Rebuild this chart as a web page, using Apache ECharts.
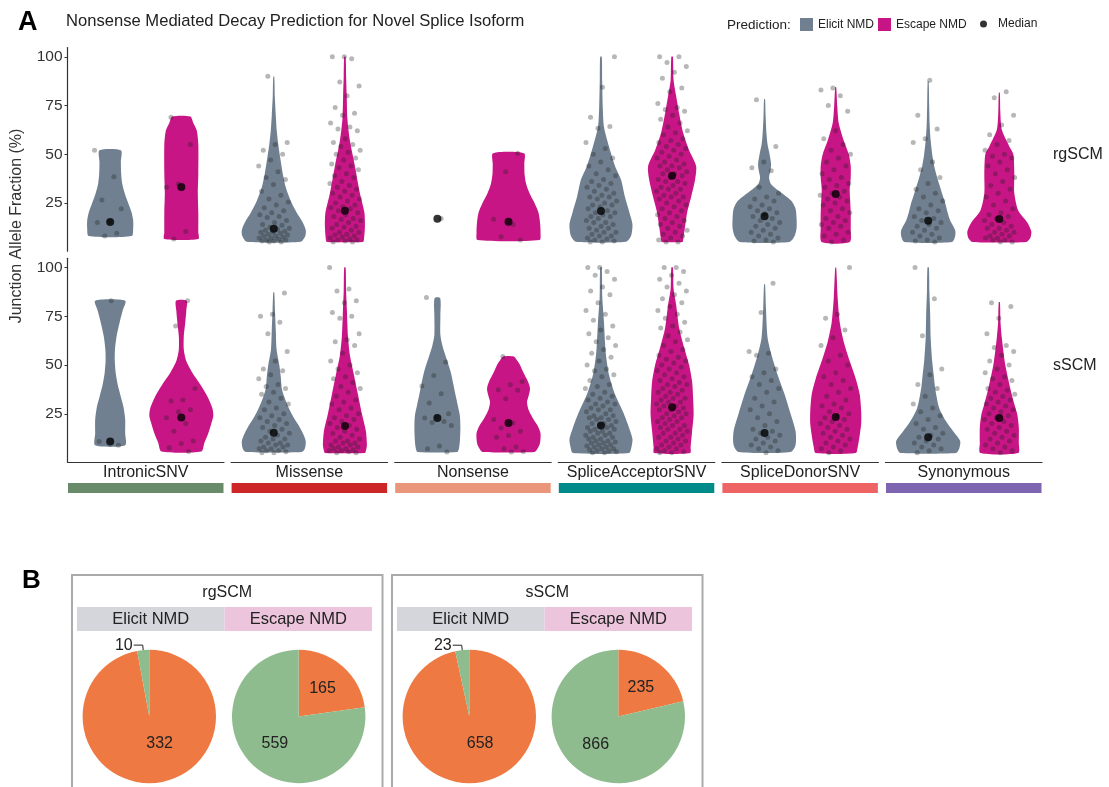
<!DOCTYPE html>
<html>
<head>
<meta charset="utf-8">
<script src="https://cdn.jsdelivr.net/npm/echarts@6/dist/echarts.min.js"></script>
<style>
  html, body { margin: 0; padding: 0; background: #fff; }
  #chart { width: 1109px; height: 787px; }
</style>
</head>
<body>
<div id="chart"></div>
<script>
// ---------- data ----------
const categories = ['IntronicSNV', 'Missense', 'Nonsense', 'SpliceAcceptorSNV', 'SpliceDonorSNV', 'Synonymous'];
const predictions = ['Elicit NMD', 'Escape NMD'];
const cohorts = ['rgSCM', 'sSCM'];
const yTicks = [25, 50, 75, 100];

// median junction allele fraction (%) per category
const rgElicitMedian = [15.2, 11.8, 16.9, 20.9, 18.2, 15.9];
const rgEscapeMedian = [33.2, 21.0, 15.4, 39.0, 29.6, 16.8];
const sElicitMedian  = [10.8, 15.3, 22.8, 19.0, 15.1, 12.9];
const sEscapeMedian  = [23.1, 18.7, 20.2, 28.4, 23.3, 22.8];

// individual junctions (%) per category
const rgElicitPoints = [
  [52, 38.5, 26.5, 22, 15.5, 15, 9.5, 8],
  [90, 56, 55, 52, 50, 47, 44, 41, 38, 37, 34.5, 31, 29, 27, 25.5, 24, 22.5, 21, 20, 19, 18, 17.5, 16, 15, 14, 13.5, 12.5, 12, 11.5, 11, 10.5, 10, 10, 9.5, 9, 8.5, 8, 8, 7.5, 7, 7, 6.5, 6, 6, 5.5, 5.5, 5, 5],
  [17],
  [100, 84.4, 69, 64.2, 63.3, 56, 53, 50, 48, 46, 44, 42, 40, 39, 37, 36, 35, 34, 33, 32, 31, 30, 29, 28, 28, 27, 26, 25, 24, 24, 23, 22, 21, 20, 20, 19, 18, 18, 17, 16, 15, 15, 14, 13, 12, 12, 11, 10, 10, 9, 8, 8, 7, 6.5, 6, 5.5, 5, 5],
  [78, 54, 46, 43, 41.5, 33, 30, 28, 27, 26, 24, 23, 22, 21, 20, 19.5, 18, 17, 16, 15, 14, 13, 12, 11, 10, 9, 8, 7, 6, 5.5, 5],
  [88, 70, 63, 58, 56, 46, 42, 38, 35, 32, 30, 28, 26, 24, 22, 21, 20, 18, 17, 16, 15, 14, 13, 12, 11, 10, 9, 8, 7, 6, 5.5, 5]
];
const rgEscapePoints = [
  [69, 55, 34.7, 33, 10.3, 6.5],
  [100, 100, 99, 87, 85, 80, 74, 71, 70, 66, 64, 63, 62, 58, 56, 55, 54, 52, 51, 50, 48, 47, 45, 44, 43, 42, 40, 39, 38, 36, 35, 34, 33, 32, 31, 30, 29, 28, 27, 26, 25, 24, 23, 22.5, 22, 21, 20, 19, 18, 17, 16.5, 16, 15, 14, 13, 12.5, 12, 11, 10, 10, 9, 8.5, 8, 7.5, 7, 6.5, 6, 6, 5.5, 5, 5],
  [50.5, 41, 16.6, 14, 7.7, 6],
  [100, 100, 97, 95, 92, 89, 84, 82, 76, 74, 73, 72, 70, 68, 66, 64, 62, 61, 60, 58, 57, 56, 55, 54, 53, 52, 51, 50, 49, 48, 47, 46, 45, 44, 44, 43, 42, 41, 40, 40, 39, 38, 37, 36, 36, 35, 34, 33, 32, 32, 31, 30, 29, 28, 28, 27, 26, 25, 24, 23, 22, 21, 20, 19, 18, 17, 16, 15, 14, 13, 12, 11, 10, 9, 8, 7, 6, 5, 5],
  [84, 83, 80, 75, 72, 62, 58, 55, 52, 50, 48, 46, 44, 42, 40, 38, 37, 35, 34, 33, 31, 30, 29, 28, 27, 26, 25, 24, 22, 21, 20, 18, 17, 16, 15, 14, 13, 12, 10, 9, 8, 6, 5],
  [82, 79, 70, 65, 60, 57, 55, 52, 50, 49, 48, 46, 44, 42, 40, 38, 36, 34, 32, 30, 28, 26, 24, 22, 20, 19, 18, 17, 16, 15, 14, 13, 12, 12, 11, 10, 10, 9, 8, 8, 7, 7, 6, 6, 5, 5]
];
const sElicitPoints = [
  [83, 10.8, 8.8],
  [87, 76, 75, 72, 66, 57, 52, 48, 47, 45, 43, 40, 39, 38, 36, 35, 33, 31, 30, 28, 27, 25, 24, 23, 22, 21, 20, 19, 18, 17, 16, 15, 14, 13, 12, 12, 11, 10, 10, 9, 9, 8, 8, 7, 7, 6, 6, 5.5, 5, 5],
  [84.6, 51.5, 44.6, 39.3, 35.2, 30.5, 25, 23.6, 22.8, 21, 20.5, 19, 8.4, 7, 5.4],
  [100, 100, 98, 96, 94, 90, 88, 86, 82, 78, 76, 73, 70, 68, 66, 64, 62, 60, 58, 56, 54, 52, 50, 48, 47, 45, 44, 42, 40, 39, 38, 36, 35, 34, 33, 32, 31, 30, 30, 29, 28, 27, 27, 26, 25, 24, 24, 23, 23, 22, 22, 21, 20, 20, 19, 19, 18, 18, 17, 17, 16, 16, 15, 15, 14, 14, 13, 13, 12, 12, 11, 11, 10.5, 10, 10, 9, 9, 8.5, 8, 8, 7, 7, 6.5, 6, 6, 5.5, 5, 5],
  [92, 77, 57, 56, 55, 48, 46, 44, 42, 40, 38, 36, 33, 31, 29, 27, 25, 23, 21, 19, 17, 16, 15, 14, 13, 12, 11, 10, 9, 8, 7, 6, 5],
  [100, 84, 65, 48, 45, 40, 38, 34, 30, 28, 26, 24, 22, 20, 18, 17, 15, 14, 13, 12, 11, 10, 9, 8, 7, 6, 5]
];
const sEscapePoints = [
  [83, 70, 38, 32, 31.5, 27, 26, 23, 20, 16, 11, 9.7, 7.5, 5.7],
  [100, 89, 88, 83, 82, 77, 75, 74, 66, 63, 62, 60, 56, 52, 50, 48, 46, 44, 43, 41, 39, 38, 36, 34, 32, 31, 30, 28, 27, 25, 24, 23, 22, 21, 20, 19, 18, 17, 16, 15, 14, 13, 12, 11, 11, 10, 10, 9, 9, 8, 8, 7, 7, 6.5, 6, 6, 5.5, 5, 5],
  [54.4, 41.5, 39.9, 37.3, 37, 32.7, 22, 20.2, 17.7, 16, 13.8, 13, 7.9, 7, 5.7, 5.4],
  [100, 100, 98, 96, 94, 92, 90, 88, 86, 84, 82, 80, 78, 76, 74, 72, 70, 69, 67, 65, 63, 62, 60, 58, 57, 55, 54, 53, 52, 51, 50, 49, 48, 47, 46, 45, 44, 43, 42, 41, 40, 40, 39, 38, 37, 36, 36, 35, 34, 33, 33, 32, 31, 31, 30, 29, 29, 28, 27, 27, 26, 25, 25, 24, 23, 23, 22, 21, 21, 20, 19, 19, 18, 17, 17, 16, 15, 15, 14, 13, 13, 12, 11, 11, 10, 9, 9, 8, 7, 7, 6, 5.5, 5, 5],
  [100, 76, 74, 68, 64, 60, 55, 52, 50, 46, 44, 42, 40, 38, 36, 34, 32, 30, 29, 28, 26, 25, 24, 23, 22, 21, 20, 19, 18, 17, 16, 15, 14, 13, 12, 11, 10, 9, 8, 7, 6, 5],
  [82, 80, 74, 66, 60, 59, 57, 55, 52, 50, 48, 46, 44, 43, 42, 40, 38, 37, 36, 35, 34, 33, 32, 31, 30, 29, 28, 27, 26, 25, 24, 23, 22, 21, 20, 19, 18, 17, 16, 15, 14, 13, 12, 11, 10, 9, 8, 7, 6, 5]
];

// violin outlines: [value (%), kernel density (arbitrary units)], top to bottom; null = too few junctions
const rgElicitDensity = [
  [[52, 10.7], [46, 10.7], [40, 11], [35, 12], [30, 14.5], [25, 18], [20, 21.5], [16, 23], [12, 23], [8, 21.5]],
  [[89.8, 0.5], [80, 1], [70, 2], [62, 3], [55, 4.5], [48, 6.5], [40, 9], [33, 12], [26, 17], [20, 23], [15, 29], [11, 32], [8, 31.5], [5.1, 27]],
  null,
  [[100, 0.8], [88, 1.2], [74, 1.8], [64, 3], [54, 8], [44, 14], [37, 20], [28, 24], [20, 28.5], [14, 31.5], [8, 30], [5.1, 25]],
  [[78.2, 0.5], [70, 1], [60, 2], [55, 3], [50, 5], [45, 6.5], [42, 6], [38, 4.5], [35, 6], [32, 12], [29, 20], [26, 27], [22, 31], [17, 32], [12, 32], [8, 30], [5, 25]],
  [[87.3, 0.5], [75, 1], [65, 1.5], [57, 2.5], [50, 4], [44, 6], [38, 9], [33, 12], [28, 15], [25, 17], [20, 19.5], [16, 22], [11, 27], [8, 27], [5, 24]]
];
const rgEscapeDensity = [
  [[69.3, 9], [66, 12], [62, 15.5], [55, 17], [40, 17], [30, 16.5], [20, 17], [10, 17], [6.5, 17]],
  [[100, 0.7], [90, 1.2], [80, 1.8], [68, 2.5], [57, 5], [44, 10], [30, 15], [20, 19.5], [13, 20], [6, 19], [5, 18]],
  [[50.5, 15.5], [45, 15.8], [40, 16], [35, 17.5], [30, 21], [25, 26], [20, 30], [15, 31.5], [10, 32], [6, 31]],
  [[100, 0.8], [88, 1.5], [80, 4], [71, 7], [61, 11], [52, 17], [44, 24], [37, 23], [28, 19], [20, 15], [13, 13], [6, 11], [5, 10.5]],
  [[84.4, 0.5], [75, 1.5], [66, 3], [57, 8], [50, 13], [44, 15], [38, 15], [32, 14], [26, 14.5], [20, 15], [12, 15], [5, 14]],
  [[81.6, 0.5], [72, 1], [62.5, 2.5], [54, 10], [50, 14], [40, 15], [30, 15], [21, 19], [15, 28], [10.3, 32], [7, 31], [5, 27]]
];
const sElicitDensity = [
  [[83, 15], [78, 12.5], [72, 9.5], [65, 6.5], [58, 4.8], [52, 4.6], [46, 5.5], [40, 7.5], [34, 10.5], [28, 13.5], [22, 15], [15, 15], [8.8, 15]],
  [[87.3, 0.5], [78, 1.2], [68, 2], [58, 2.8], [50, 5.5], [44, 7], [38, 8], [33, 11], [28, 15], [23, 20], [19, 25], [14, 30], [10.8, 32], [7, 31], [5.4, 28]],
  [[84.3, 2.8], [75, 3], [65.5, 3], [60, 5], [55, 8], [47, 13], [40, 16], [35, 18], [29, 20.5], [24, 22.5], [18, 23], [11, 22.5], [7, 21.5], [5.4, 20]],
  [[100, 0.8], [85, 1.3], [72, 3], [62, 4], [55, 5], [45, 8], [35, 14], [26, 22], [18, 28], [12, 31.5], [8, 30.5], [4.9, 28]],
  [[91.4, 0.5], [80, 1.3], [64, 3], [55, 7], [45, 13], [35, 20], [25, 26], [16, 31], [9, 31], [5.4, 26]],
  [[100, 0.7], [88, 1.2], [76, 2], [64, 2.5], [52, 4], [45, 5.5], [38, 7], [28, 11], [21, 18], [16, 25], [11, 32], [7, 31], [4.9, 28]]
];
const sEscapeDensity = [
  [[83, 5.3], [78, 5], [72, 4], [65, 2.5], [58, 2.5], [52, 5], [46, 11], [40, 19], [34, 26], [28, 31], [24, 32], [20, 30], [15, 27], [10, 23], [5.7, 20]],
  [[100, 0.7], [88, 1.2], [78, 2], [65, 3], [55, 5], [45, 9], [35, 13], [25, 17], [16, 21], [9, 22], [6, 21], [4.9, 20]],
  [[54.4, 5.3], [52, 9], [50, 11.5], [46, 15], [42, 19], [38, 21.5], [34, 20], [31, 18.5], [27, 20], [23, 24], [19, 29], [15, 32], [10, 31.5], [7, 29], [5.4, 26]],
  [[100, 0.8], [89, 1.5], [81, 4], [69, 7], [59, 12], [50, 17], [41.5, 20], [33, 21], [24.5, 21.5], [16, 20], [8, 18.5], [4.9, 18]],
  [[100, 0.5], [84, 2], [72, 4], [62, 8], [52, 14], [43, 20], [35, 24], [26, 25.5], [20, 25.5], [14, 24], [8, 22], [4.9, 20]],
  [[82.2, 0.6], [72, 1.2], [64, 2.5], [50, 6], [38, 11], [30, 15], [24.5, 18], [18, 19.5], [10, 19.5], [4.9, 19]]
];

// panel B: junction counts per prediction, [orange slice, green slice]
const pieSliceNames = ['Elicit', 'Escape'];
const rgElicitCounts = [332, 10];
const rgEscapeCounts = [165, 559];
const sElicitCounts  = [658, 23];
const sEscapeCounts  = [235, 866];

// ---------- styling ----------
const FONT = "'Liberation Sans', Arial, Helvetica, sans-serif";
const TEXT = '#222';
const predColors = ['#708090', '#c71585'];
const catStripColors = ['#698b69', '#cd2626', '#e9967a', '#008b8b', '#ee6363', '#7e65b0'];
const pieColors = ['#ee7942', '#8fbc8f'];
const stripFill = ['#d4d6dc', '#ecc5dd'];

const PANEL_X0 = 67.5, PANEL_STEP = 163.6, PANEL_W = 156.5;
const ROW_TOP = [47.5, 258.3], ROW_H = 203.7;
const Y_MIN = 0.25, Y_MAX = 104.75;
const DENS_TO_X = 1 / 71.14;   // density units -> x-axis units
const JITTER = 0.22;

const medians = [[rgElicitMedian, rgEscapeMedian], [sElicitMedian, sEscapeMedian]];
const points  = [[rgElicitPoints, rgEscapePoints], [sElicitPoints, sEscapePoints]];
const density = [[rgElicitDensity, rgEscapeDensity], [sElicitDensity, sEscapeDensity]];

const grids = [], xAxes = [], yAxes = [], series = [];

for (let r = 0; r < 2; r++) {
  for (let c = 0; c < categories.length; c++) {
    const g = grids.length;
    grids.push({ left: PANEL_X0 + c * PANEL_STEP, top: ROW_TOP[r], width: PANEL_W, height: ROW_H });
    xAxes.push({
      gridIndex: g, type: 'value', min: 0.4, max: 2.6,
      axisLine: { show: r === 1, onZero: false, lineStyle: { color: '#333', width: 1.2 } },
      axisTick: { show: false }, axisLabel: { show: false }, splitLine: { show: false }
    });
    yAxes.push({
      gridIndex: g, type: 'value', min: Y_MIN, max: Y_MAX, show: c === 0,
      axisLine: { show: true, lineStyle: { color: '#333', width: 1.2 } },
      axisTick: { show: true, length: 3, customValues: yTicks, lineStyle: { color: '#333' } },
      axisLabel: { customValues: yTicks, fontSize: 15.5, color: '#333', fontFamily: FONT, margin: 5 },
      splitLine: { show: false }
    });

    for (let p = 0; p < 2; p++) {
      const prof = density[r][p][c];
      if (prof) {
        series.push({
          type: 'custom', name: predictions[p], xAxisIndex: g, yAxisIndex: g, z: 1,
          itemStyle: { color: predColors[p] }, silent: true,
          encode: { x: 0, y: 1 },
          data: [[p + 1, medians[r][p][c]]],
          renderItem: (params, api) => {
            const cx = api.value(0);
            const right = prof.map(([v, d]) => api.coord([cx + d * DENS_TO_X, v]));
            const left = prof.slice().reverse().map(([v, d]) => api.coord([cx - d * DENS_TO_X, v]));
            return {
              type: 'polygon',
              shape: { points: right.concat(left), smooth: 0.25 },
              style: { fill: predColors[p] }
            };
          }
        });
      }
    }
    for (let p = 0; p < 2; p++) {
      // spread the junctions sideways with a fixed golden-ratio sequence
      const pts = points[r][p][c].map((v, i) => {
        const f = (i * 0.6180339887 + 0.31 * c + 0.17 * p + 0.53 * r) % 1;
        return [p + 1 + (f - 0.5) * 2 * JITTER, v];
      });
      series.push({
        type: 'scatter', name: predictions[p], xAxisIndex: g, yAxisIndex: g, z: 2,
        symbolSize: 5, silent: true,
        itemStyle: { color: 'rgba(30,30,30,0.4)' },
        data: pts
      });
    }
    series.push({
      type: 'scatter', name: 'Median', xAxisIndex: g, yAxisIndex: g, z: 3,
      symbolSize: 8, silent: true, itemStyle: { color: '#000' },
      data: [[1, medians[r][0][c]], [2, medians[r][1][c]]]
    });
  }
}

// ---------- panel B pies ----------
const pieCenters = [[149.3, 716.5], [298.7, 716.5], [469.3, 716.5], [618.3, 716.5]];
const pieCounts = [rgElicitCounts, rgEscapeCounts, sElicitCounts, sEscapeCounts];
pieCounts.forEach((counts, k) => {
  const total = counts[0] + counts[1];
  series.push({
    type: 'pie', center: pieCenters[k], radius: 66.7, startAngle: 90, clockwise: true,
    avoidLabelOverlap: false, silent: true, z: 2,
    label: { position: 'inside', formatter: '{c}', fontSize: 16, color: TEXT, fontFamily: FONT },
    labelLine: { show: false },
    data: counts.map((v, i) => {
      const item = { name: pieSliceNames[i], value: v, itemStyle: { color: pieColors[i] } };
      const share = v / total;
      if (share < 0.05) {
        item.label = { position: 'outside', distanceToLabelLine: 1, fontSize: 16, color: TEXT };
        item.labelLine = { show: true, length: 5, length2: 9, smooth: false, lineStyle: { color: TEXT, width: 1 } };
      } else if (share > 0.9) {
        // nearly full slices: nudge the count toward the right of the pie centre
        item.label = { offset: [7, -9] };
      }
      return item;
    })
  });
});

// ---------- annotations ----------
const graphics = [];
const txt = (x, y, text, size, extra) => Object.assign({
  type: 'text', x, y, silent: true,
  style: Object.assign({ text, fontSize: size, fontFamily: FONT, fill: TEXT, align: 'left', verticalAlign: 'middle' }, extra || {})
});

graphics.push(txt(18, 23, 'A', 27, { fontWeight: 'bold', fill: '#000' }));
graphics.push(txt(66, 21, 'Nonsense Mediated Decay Prediction for Novel Splice Isoform', 16.6));
graphics.push(txt(727, 25, 'Prediction:', 13.5));
graphics.push(Object.assign(txt(17, 226, 'Junction Allele Fraction (%)', 16, { align: 'center', fill: '#333' }), { rotation: Math.PI / 2 }));
graphics.push(txt(1053, 155, cohorts[0], 16));
graphics.push(txt(1053, 366, cohorts[1], 16));

categories.forEach((name, c) => {
  const x0 = PANEL_X0 + c * PANEL_STEP;
  graphics.push(txt(x0 + PANEL_W / 2, 473, name, 16, { align: 'center' }));
  graphics.push({ type: 'rect', silent: true, shape: { x: x0 + 0.5, y: 483, width: PANEL_W - 1, height: 10 },
    style: { fill: catStripColors[c] } });
});

graphics.push(txt(22, 581, 'B', 26, { fontWeight: 'bold', fill: '#000' }));
[72, 392].forEach((bx, k) => {
  graphics.push({ type: 'rect', silent: true, shape: { x: bx, y: 575, width: 310.5, height: 215 },
    style: { fill: 'none', stroke: '#aaa', lineWidth: 2 } });
  graphics.push(txt(bx + 155.25, 593, cohorts[k], 16, { align: 'center' }));
  predictions.forEach((pname, p) => {
    const sx = bx + 5 + p * 147.5;
    graphics.push({ type: 'rect', silent: true, shape: { x: sx, y: 607, width: 147.5, height: 24 },
      style: { fill: stripFill[p] } });
    graphics.push(txt(sx + 73.75, 619, pname, 16.5, { align: 'center' }));
  });
});

const chart = echarts.init(document.getElementById('chart'), null, { renderer: 'canvas' });
chart.setOption({
  animation: false,
  backgroundColor: '#fff',
  grid: grids, xAxis: xAxes, yAxis: yAxes,
  legend: [
    {
      data: [
        { name: predictions[0], icon: 'rect', itemStyle: { color: predColors[0] } },
        { name: predictions[1], icon: 'rect', itemStyle: { color: predColors[1] } }
      ],
      left: 800, top: 18, itemWidth: 13, itemHeight: 13, itemGap: 4, padding: 0, selectedMode: false,
      textStyle: { fontSize: 12, color: TEXT, fontFamily: FONT }
    },
    {
      data: [{ name: 'Median', icon: 'circle', itemStyle: { color: '#000' } }],
      left: 980, top: 18, itemWidth: 7, itemHeight: 7, padding: 0, selectedMode: false,
      textStyle: { fontSize: 12, color: TEXT, fontFamily: FONT, padding: [0, 0, 0, 6] }
    }
  ],
  series: series,
  graphic: graphics
});
</script>
</body>
</html>
